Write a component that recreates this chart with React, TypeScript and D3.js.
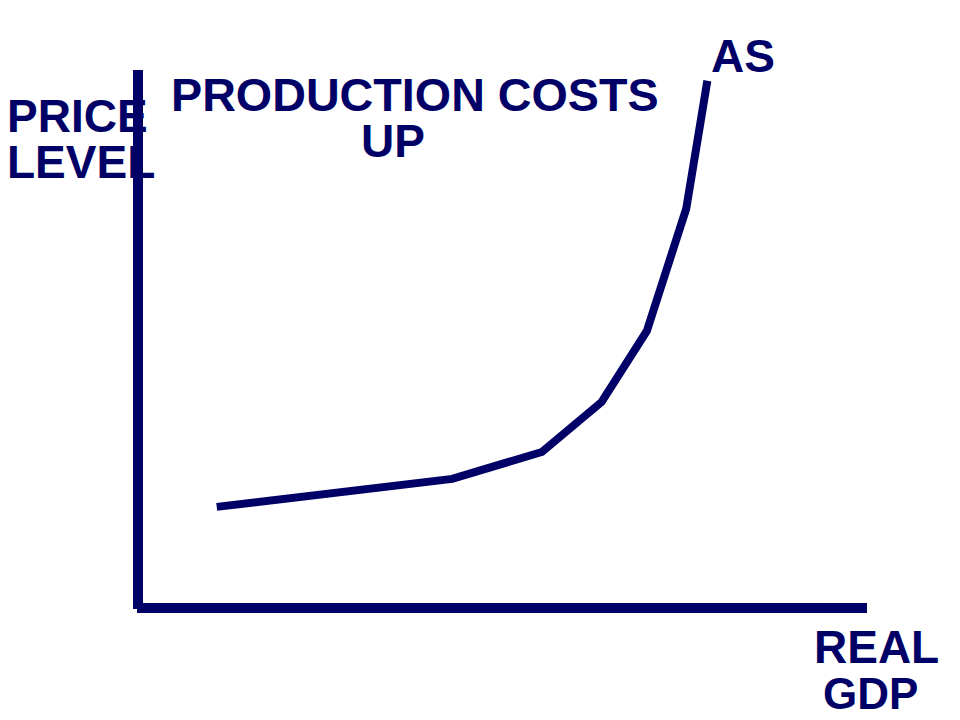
import React from "react";
import * as d3 from "d3";

const realGdp = [10.8, 43.1, 55.4, 63.6, 69.8, 75.2, 78.1];
const priceLevel = [18.8, 24.0, 29.0, 38.3, 51.5, 74.2, 98.0];
const yLabelLines = ["PRICE", "LEVEL"];
const xLabelLines = ["REAL", "GDP"];
const titleLines = ["PRODUCTION COSTS", "UP"];
const curveLabel = "AS";

const W = 960;
const H = 720;
const NAVY = "#000066";
const FONT = "'Liberation Sans', Arial, Helvetica, sans-serif";

export default function App() {
  const x = d3.scaleLinear().domain([0, 100]).range([138, 867]);
  const y = d3.scaleLinear().domain([0, 100]).range([608, 70]);
  const pts: [number, number][] = realGdp.map((v, i) => [v, priceLevel[i]]);
  const line = d3
    .line<[number, number]>()
    .x((d) => x(d[0]))
    .y((d) => y(d[1]));

  const textStyle = {
    fontFamily: FONT,
    fontWeight: 700,
    fontSize: 46,
    fill: NAVY,
  } as const;

  return (
    <svg
      width={W}
      height={H}
      style={{ position: "absolute", left: 0, top: 0, background: "#fff" }}
    >
      {/* axes */}
      <line x1={x(0)} y1={y(100)} x2={x(0)} y2={y(0) + 1} stroke={NAVY} strokeWidth={10} />
      <line x1={x(0) - 1} y1={y(0)} x2={x(100)} y2={y(0)} stroke={NAVY} strokeWidth={10} />

      {/* AS curve */}
      <path
        d={line(pts) || ""}
        fill="none"
        stroke={NAVY}
        strokeWidth={8}
        strokeLinejoin="miter"
        strokeLinecap="butt"
      />

      {/* y label */}
      <text {...textStyle} x={7} y={132}>{yLabelLines[0]}</text>
      <text {...textStyle} x={7} y={178}>{yLabelLines[1]}</text>

      {/* title */}
      <text {...textStyle} fontSize={46.7} x={171} y={111}>{titleLines[0]}</text>
      <text {...textStyle} x={361} y={157}>{titleLines[1]}</text>

      {/* AS label */}
      <text {...textStyle} x={711} y={72}>{curveLabel}</text>

      {/* x label */}
      <text {...textStyle} x={814} y={663}>{xLabelLines[0]}</text>
      <text {...textStyle} fontSize={44} x={823} y={709}>{xLabelLines[1]}</text>
    </svg>
  );
}
